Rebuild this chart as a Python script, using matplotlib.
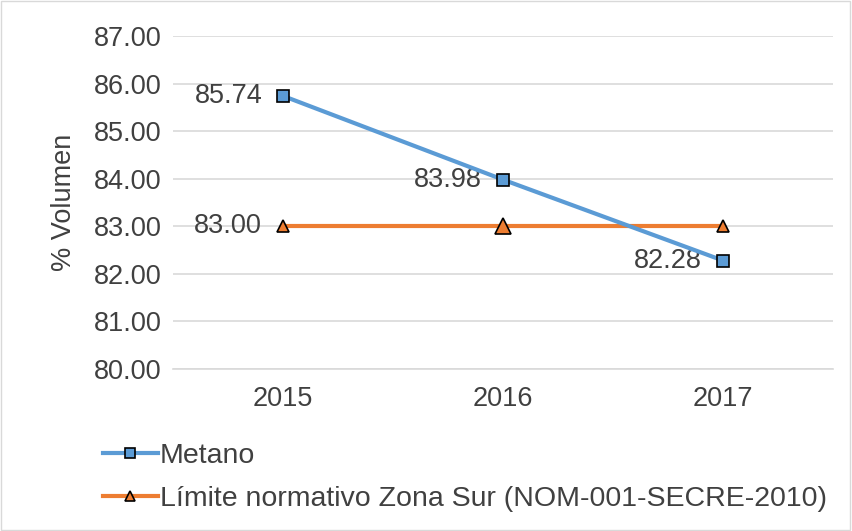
import matplotlib.pyplot as plt
from matplotlib.lines import Line2D

plt.rcParams['font.family'] = ['Liberation Sans', 'DejaVu Sans']

years = ['2015', '2016', '2017']
metano = [85.74, 83.98, 82.28]
limite = [83.00, 83.00, 83.00]
yticks = [80, 81, 82, 83, 84, 85, 86, 87]

blue = '#5B9BD5'
orange = '#ED7D31'
txt = '#404040'
fs = 19.5

fig = plt.figure(figsize=(8.52, 5.31), dpi=100)
ax = fig.add_axes([173 / 852, 1 - 369 / 531, 660 / 852, 333 / 531])

x = range(len(years))
ax.plot(x, metano, color=blue, lw=3, marker='s', ms=8, mfc=blue, mec='black', mew=1.2, zorder=4)
ax.plot(x, limite, color=orange, lw=3, zorder=3)
# triangles: the middle one is drawn a bit larger
tri_sizes = [8, 11, 8]
for xi, yi, s in zip(x, limite, tri_sizes):
    ax.plot(xi, yi, marker='^', ms=s, mfc=orange, mec='black', mew=1.2, zorder=5)

for xi, yi in zip(x, metano):
    ax.annotate(f'{yi:.2f}', (xi, yi), xytext=(-15, 0), textcoords='offset points',
                ha='right', va='center', fontsize=fs, color=txt)
ax.annotate(f'{limite[0]:.2f}', (0, limite[0]), xytext=(-15, 0), textcoords='offset points',
            ha='right', va='center', fontsize=fs, color=txt)

ax.set_xlim(-0.5, 2.5)
ax.set_ylim(80, 87)
ax.set_xticks(list(x))
ax.set_xticklabels(years)
ax.set_yticks(yticks)
ax.set_yticklabels([f'{v:.2f}' for v in yticks])
ax.yaxis.grid(True, color='#D9D9D9', lw=1.2)
ax.set_axisbelow(True)
for side in ['top', 'right', 'left']:
    ax.spines[side].set_visible(False)
ax.spines['bottom'].set_color('#D9D9D9')
ax.spines['bottom'].set_linewidth(1.2)
ax.tick_params(axis='both', length=0, labelsize=fs, labelcolor=txt)
ax.tick_params(axis='x', pad=12)
ax.tick_params(axis='y', pad=8)
ax.set_ylabel('% Volumen', fontsize=fs, color=txt, labelpad=12)

handles = [
    Line2D([], [], color=blue, lw=3, marker='s', ms=7, mfc=blue, mec='black', mew=1.2),
    Line2D([], [], color=orange, lw=3, marker='^', ms=7, mfc=orange, mec='black', mew=1.2),
]
fig.legend(handles, ['Metano', 'Límite normativo Zona Sur (NOM-001-SECRE-2010)'],
           loc='upper left', bbox_to_anchor=(77 / 852, 1 - 417 / 531), frameon=False,
           fontsize=20.5, labelcolor=txt, handlelength=1.95, handletextpad=0.05,
           labelspacing=0.6)

fig.patches.append(plt.Rectangle((0.001, 0.001), 0.997, 0.997, transform=fig.transFigure,
                                 fill=False, edgecolor='#D9D9D9', lw=1))

fig.savefig('out.png', dpi=100, facecolor='white')
